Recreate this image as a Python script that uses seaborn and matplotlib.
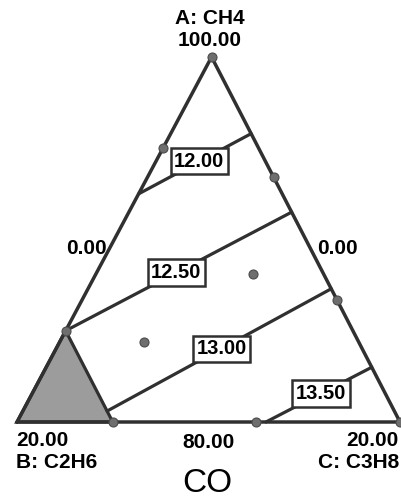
import numpy as np
import pandas as pd
import matplotlib
matplotlib.use("Agg")
import matplotlib.pyplot as plt
import seaborn as sns

sns.set_style("white")
plt.rcParams["font.family"] = ["Liberation Sans", "DejaVu Sans"]

# ---- data (component percentages: A=CH4, B=C2H6, C=C3H8) ----
A_range = (80.0, 100.0)          # A varies between 80 and 100
span = 20.0

# design points (A, B, C)
pts_A = [100.0, 95.0, 93.4, 88.1, 86.7, 85.0, 84.4, 80.0, 80.0, 80.0]
pts_B = [0.0, 5.0, 0.0, 3.7, 0.0, 15.0, 11.2, 15.0, 7.5, 0.0]
pts_C = [0.0, 0.0, 6.6, 8.2, 13.3, 0.0, 4.4, 5.0, 12.5, 20.0]

# contour levels (CO) and their end points (A, B, C)
levels = ["12.00", "12.50", "13.00", "13.50"]
c_start_A = [92.5, 85.0, 80.6, 80.0]
c_start_B = [7.5, 15.0, 15.0, 7.0]
c_start_C = [0.0, 0.0, 4.4, 13.0]
c_end_A = [95.8, 91.5, 87.3, 83.0]
c_end_B = [0.0, 0.0, 0.0, 0.0]
c_end_C = [4.2, 8.5, 12.7, 17.0]
label_pos = [0.54, 0.49, 0.51, 0.52]

# infeasible region (B > 15)
gray_A = [80.0, 85.0, 80.0]
gray_B = [20.0, 15.0, 15.0]
gray_C = [0.0, 0.0, 5.0]

# ---- ternary helper ----
V_top = np.array([0.508, 1.0])
V_left = np.array([0.0, 0.0])
V_right = np.array([1.0, 0.0])


def to_xy(A, B, C):
    a = (np.asarray(A, float) - A_range[0]) / span
    b = np.asarray(B, float) / span
    c = np.asarray(C, float) / span
    x = a * V_top[0] + b * V_left[0] + c * V_right[0]
    y = a * V_top[1] + b * V_left[1] + c * V_right[1]
    return x, y


W, H = 402, 500
fig = plt.figure(figsize=(W / 100, H / 100), dpi=100)
ax = fig.add_axes([17 / W, (H - 422) / H, 383 / W, 365 / H])
ax.set_xlim(0, 1)
ax.set_ylim(0, 1)
ax.axis("off")

line_col = "#303030"

# gray region
gx, gy = to_xy(gray_A, gray_B, gray_C)
ax.fill(gx, gy, color="#9c9c9c", zorder=1, clip_on=False)
ax.plot(np.append(gx, gx[0]), np.append(gy, gy[0]), color=line_col, lw=2.3,
        zorder=2, clip_on=False)

# triangle outline
tx, ty = to_xy([100, 80, 80, 100], [0, 20, 0, 0], [0, 0, 20, 0])
ax.plot(tx, ty, color=line_col, lw=2.5, zorder=3, clip_on=False,
        solid_joinstyle="miter")

# contour lines
rows = []
for i, lev in enumerate(levels):
    sx, sy = to_xy(c_start_A[i], c_start_B[i], c_start_C[i])
    ex, ey = to_xy(c_end_A[i], c_end_B[i], c_end_C[i])
    rows.append({"level": lev, "x": float(sx), "y": float(sy)})
    rows.append({"level": lev, "x": float(ex), "y": float(ey)})
cdf = pd.DataFrame(rows)
sns.lineplot(data=cdf, x="x", y="y", units="level", estimator=None, sort=False,
             color=line_col, lw=2.3, ax=ax, zorder=2, legend=False)
for ln in ax.lines:
    ln.set_clip_on(False)

for i, lev in enumerate(levels):
    sx, sy = to_xy(c_start_A[i], c_start_B[i], c_start_C[i])
    ex, ey = to_xy(c_end_A[i], c_end_B[i], c_end_C[i])
    t = label_pos[i]
    lx, ly = sx + t * (ex - sx), sy + t * (ey - sy)
    ax.text(lx, ly, lev, ha="center", va="center", fontsize=14.5,
            fontweight="bold", color="black", zorder=6,
            bbox=dict(boxstyle="square,pad=0.18", fc="white", ec=line_col,
                      lw=1.8))

# design points
px, py = to_xy(pts_A, pts_B, pts_C)
pdf = pd.DataFrame({"x": px, "y": py})
sns.scatterplot(data=pdf, x="x", y="y", s=42, color="#6e6e6e",
                edgecolor="#4a4a4a", linewidth=0.8, ax=ax, zorder=5,
                clip_on=False)
ax.set_xlabel("")
ax.set_ylabel("")


def pix(px_, py_):
    return ((px_ - 17) / 383, (422 - py_) / 365)


fs = 15
kw = dict(va="center", fontsize=fs, fontweight="bold",
          color="black", clip_on=False)
ax.text(*pix(210, 18), "A: CH4", ha="center", **kw)
ax.text(*pix(210, 40), "100.00", ha="center", **kw)
ax.text(*pix(86, 248), "0.00", ha="center", **kw)
ax.text(*pix(337, 248), "0.00", ha="center", **kw)
ax.text(*pix(16, 441), "20.00", ha="left", **kw)
ax.text(*pix(16, 463), "B: C2H6", ha="left", **kw)
ax.text(*pix(209, 442), "80.00", ha="center", **kw)
ax.text(*pix(399, 441), "20.00", ha="right", **kw)
ax.text(*pix(399, 463), "C: C3H8", ha="right", **kw)
ax.text(*pix(207, 484), "CO", ha="center", va="center", fontsize=24,
        color="black", clip_on=False)

fig.savefig("out.png", dpi=100)
